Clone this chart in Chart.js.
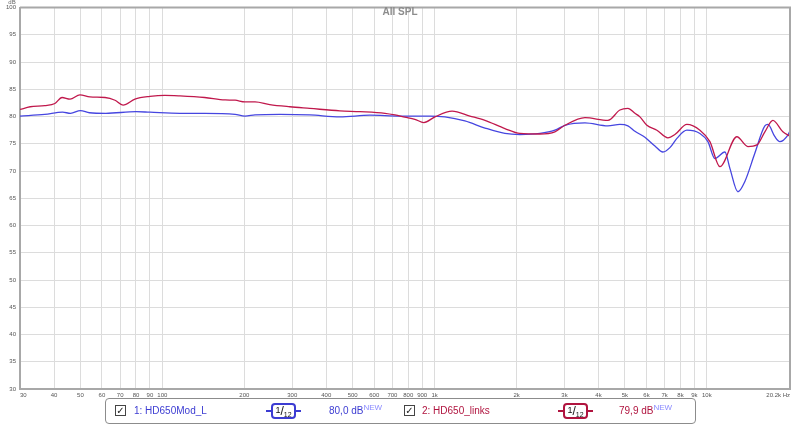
<!DOCTYPE html>
<html>
<head>
<meta charset="utf-8">
<script src="https://cdn.jsdelivr.net/npm/chart.js@4.4.1/dist/chart.umd.min.js"></script>
<style>
    body { margin: 0; background: #fff; font-family: "Liberation Sans", Arial, sans-serif; }
    #wrap { position: relative; width: 800px; height: 425px; }
    #legend { position: absolute; left: 105px; top: 398px; width: 591px; height: 26px; border: 1px solid #8c8c8c; border-radius: 4px; box-sizing: border-box; font-size: 10px; background: #fff; }
    .it { position: absolute; top: 0; height: 24px; line-height: 24px; white-space: nowrap; }
    .cb { position: absolute; top: 6px; width: 11px; height: 11px; border: 1px solid #444; box-sizing: border-box; font-size: 10px; line-height: 10px; text-align: center; color: #222; font-family: "DejaVu Sans", sans-serif; }
    .sm { position: absolute; top: 4px; height: 16px; }
    .sm .ln { position: absolute; top: 7px; height: 2px; }
    .sm .bx { position: absolute; top: 0; height: 16px; border: 2px solid; border-radius: 4px; box-sizing: border-box; background: #fff; color: #111; line-height: 12px; text-align: center; }
    .sm .a { font-size: 9px; position: relative; top: -2px; }
    .sm .s { font-size: 12px; }
    .sm .b { font-size: 7px; position: relative; top: 2px; }
    .nw { font-size: 8px; color: #8a8aff; position: relative; top: -4px; }
</style>
</head>
<body>
<div id="wrap">
    <canvas id="spl" width="800" height="425"></canvas>
    <div id="legend">
        <div class="cb" style="left:9px">&#10003;</div>
        <div class="it" style="left:28px;color:#3c3cd2">1: HD650Mod_L</div>
        <div class="sm" style="left:160px;width:35px">
            <div class="ln" style="left:0;width:35px;background:#3c3cd2"></div>
            <div class="bx" style="left:5px;width:25px;border-color:#3c3cd2"><span class="a">1</span><span class="s">/</span><span class="b">12</span></div>
        </div>
        <div class="it" style="left:223px;color:#3c3cd2">80,0 dB<span class="nw">NEW</span></div>
        <div class="cb" style="left:298px">&#10003;</div>
        <div class="it" style="left:316px;color:#b0143f">2: HD650_links</div>
        <div class="sm" style="left:452px;width:35px">
            <div class="ln" style="left:0;width:35px;background:#b0143f"></div>
            <div class="bx" style="left:5px;width:25px;border-color:#b0143f"><span class="a">1</span><span class="s">/</span><span class="b">12</span></div>
        </div>
        <div class="it" style="left:513px;color:#b0143f">79,9 dB<span class="nw">NEW</span></div>
    </div>
</div>
<script>
    // HD650Mod_L (blue)
    var blueFreq = [30, 37, 43, 46, 50, 54, 62, 80, 90, 116,
        143, 185, 201, 219, 270, 348, 449, 579, 746, 961,
        1091, 1292, 1531, 1812, 2058, 2437, 2766, 3010, 3566, 4330,
        4793, 5128, 5443, 5921, 6445, 6893, 7317, 7762, 8446, 9430,
        10087, 10704, 11646, 12150, 13002, 13794, 15012, 16333, 16754, 17778,
        18540, 19842, 20200];
    var blueDb = [80.1, 80.4, 80.8, 80.6, 81.1, 80.7, 80.6, 80.9, 80.8, 80.6,
        80.6, 80.4, 80.1, 80.3, 80.4, 80.3, 79.95, 80.25, 80.1, 80.1,
        79.95, 79.2, 77.9, 76.9, 76.7, 76.9, 77.5, 78.4, 78.85, 78.3,
        78.55, 78.3, 77.3, 76.2, 74.6, 73.5, 74.3, 76.0, 77.5, 76.9,
        75.4, 72.3, 73.5, 70.5, 66.2, 68.1, 73.3, 78.3, 78.55, 76.3,
        75.4, 76.6, 77.4];

    // HD650_links (red)
    var redFreq = [30, 32.7, 37, 40.3, 42.8, 45.8, 49.8, 54.2, 61.6, 67,
        71.7, 79.3, 90, 102, 116, 143, 170, 185, 201, 219,
        248, 294, 348, 449, 532, 657, 715, 777, 846, 913,
        1003, 1159, 1348, 1531, 1812, 2058, 2437, 2766, 3010, 3566,
        4330, 4793, 5128, 5443, 5676, 6022, 6553, 7193, 7632, 8446,
        9430, 10260, 11166, 12891, 14148, 15267, 16333, 17478, 19020, 20200];
    var redDb = [81.3, 81.8, 82.0, 82.4, 83.5, 83.2, 84.0, 83.6, 83.5, 83.0,
        82.1, 83.2, 83.7, 83.9, 83.8, 83.5, 83.05, 83.0, 82.7, 82.7,
        82.2, 81.8, 81.5, 81.05, 80.9, 80.6, 80.3, 79.9, 79.5, 78.9,
        79.95, 81.0, 80.1, 79.3, 77.8, 76.9, 76.8, 77.2, 78.4, 79.8,
        79.3, 81.2, 81.5, 80.6, 79.95, 78.4, 77.5, 76.1, 76.7, 78.55,
        77.5, 75.4, 70.8, 76.3, 74.5, 74.8, 77.2, 79.3, 77.2, 76.4];

    var tickValues = [30, 40, 50, 60, 70, 80, 90, 100, 200, 300, 400, 500, 600, 700, 800, 900,
        1000, 2000, 3000, 4000, 5000, 6000, 7000, 8000, 9000, 10000, 20200];
    var tickLabels = ['30', '40', '50', '60', '70', '80', '90', '100', '200', '300', '400', '500', '600', '700', '800', '900',
        '1k', '2k', '3k', '4k', '5k', '6k', '7k', '8k', '9k', '10k', '20.2k Hz'];

    function toPoints(freq, db) {
        return freq.map(function (f, i) {
            return { x: f, y: db[i] };
        });
    }

    var frame = {
        id: 'frame',
        afterDraw: function (chart) {
            var a = chart.chartArea;
            var ctx = chart.ctx;
            ctx.save();
            ctx.strokeStyle = '#a8a8a8';
            ctx.lineWidth = 2;
            ctx.beginPath();
            ctx.moveTo(a.left, a.top);
            ctx.lineTo(a.right, a.top);
            ctx.lineTo(a.right, a.bottom);
            ctx.stroke();
            ctx.fillStyle = '#8c8c8c';
            ctx.font = 'bold 10px "Liberation Sans", Arial, sans-serif';
            ctx.textAlign = 'center';
            ctx.textBaseline = 'middle';
            ctx.fillText('All SPL', 400, 12);
            ctx.fillStyle = '#666';
            ctx.font = '6px "Liberation Sans", Arial, sans-serif';
            ctx.fillText('dB', 12, 2);
            ctx.restore();
        }
    };

    new Chart(document.getElementById('spl'), {
        type: 'line',
        data: {
            datasets: [
                {
                    label: 'HD650_links',
                    data: toPoints(redFreq, redDb),
                    borderColor: '#c0184c',
                    borderWidth: 1.3,
                    pointRadius: 0,
                    cubicInterpolationMode: 'monotone'
                },
                {
                    label: 'HD650Mod_L',
                    data: toPoints(blueFreq, blueDb),
                    borderColor: '#4646e0',
                    borderWidth: 1.3,
                    pointRadius: 0,
                    cubicInterpolationMode: 'monotone'
                }
            ]
        },
        options: {
            responsive: false,
            animation: false,
            layout: { padding: { top: 6, right: 10, bottom: 22, left: 0 } },
            plugins: {
                legend: { display: false },
                tooltip: { enabled: false }
            },
            scales: {
                x: {
                    type: 'logarithmic',
                    min: 30,
                    max: 20200,
                    afterBuildTicks: function (scale) {
                        scale.ticks = tickValues.map(function (v) { return { value: v }; });
                    },
                    afterFit: function (scale) { scale.height = 14; },
                    grid: { color: '#dcdcdc', lineWidth: 1, drawTicks: false },
                    border: { color: '#a8a8a8', width: 2 },
                    ticks: {
                        autoSkip: false,
                        maxRotation: 0,
                        align: 'inner',
                        padding: 3,
                        color: '#555',
                        font: { size: 6, family: '"Liberation Sans", Arial, sans-serif' },
                        callback: function (value, index) { return tickLabels[index]; }
                    }
                },
                y: {
                    min: 30,
                    max: 100,
                    afterFit: function (scale) { scale.width = 20; },
                    grid: { color: '#dcdcdc', lineWidth: 1, drawTicks: false },
                    border: { color: '#a8a8a8', width: 2 },
                    ticks: {
                        stepSize: 5,
                        padding: 4,
                        color: '#555',
                        font: { size: 6, family: '"Liberation Sans", Arial, sans-serif' }
                    }
                }
            }
        },
        plugins: [frame]
    });
</script>
</body>
</html>
